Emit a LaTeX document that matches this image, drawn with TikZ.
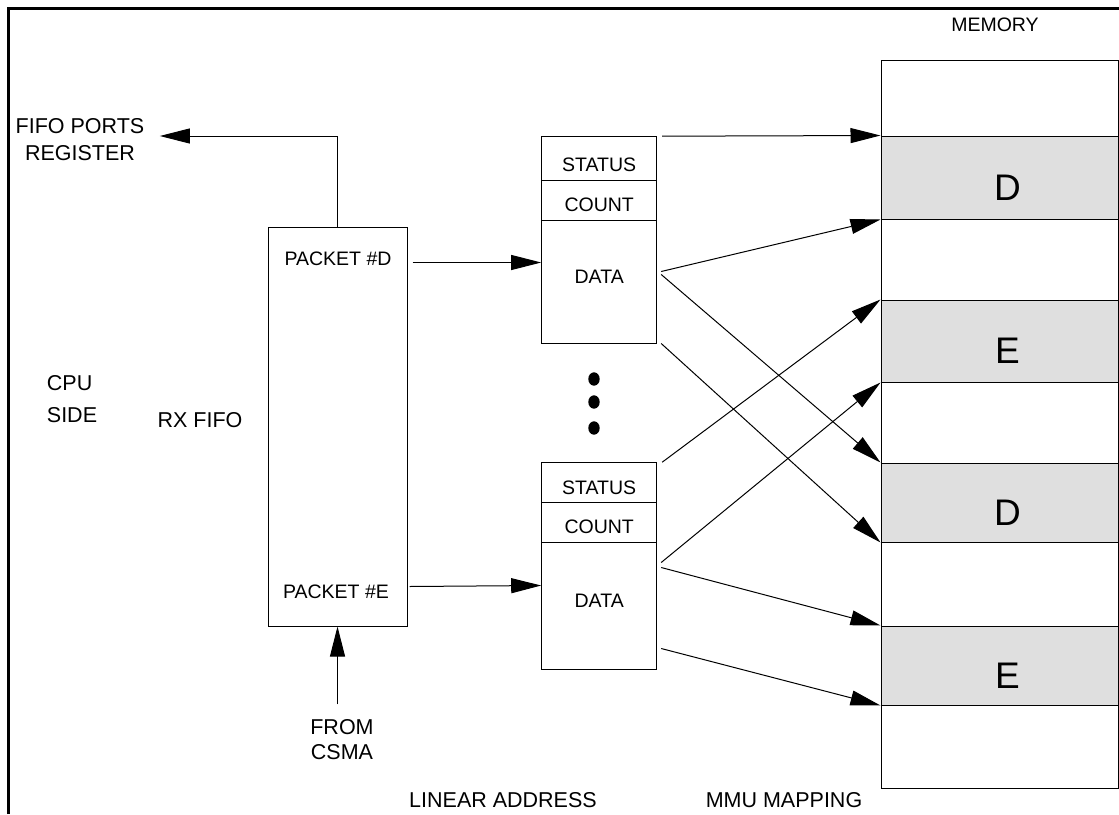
\documentclass[tikz,border=0pt]{standalone}
\usepackage{fontspec}
\setmainfont{Liberation Sans}
\usetikzlibrary{arrows.meta}
\tikzset{
  arr/.style={-{Triangle[length=30pt,width=15pt]}},
  lbl/.style={font=\fontsize{21.5}{27}\selectfont, align=center},
  small/.style={font=\fontsize{19.5}{24}\selectfont},
  big/.style={font=\fontsize{37}{40}\selectfont},
  field/.style={draw, rectangle, minimum width=115pt},
  mem/.style={draw, rectangle, minimum width=237pt},
  page/.style={mem, fill=gray!25}
}
\begin{document}
\begin{tikzpicture}[x=1pt, y=1pt, line width=1pt]
\tikzstyle{every node}+=[inner sep=0pt]
\useasboundingbox (0,0) rectangle (1119,-814);
\draw [line width=3pt] (8,-814) -- (8,-8) -- (1119,-8);
\node [small] (memory) at (995,-25) {MEMORY};
\node [lbl] (linear) at (503,-800) {LINEAR ADDRESS};
\node [lbl] (mmu) at (784,-800) {MMU MAPPING};
\node [lbl] (fports) at (80,-140) {FIFO PORTS\\REGISTER};
\node [lbl, align=left, font=\fontsize{21.5}{32}\selectfont] (cpu) at (72,-399) {CPU\\SIDE};
\node [lbl] (rxlabel) at (200,-420) {RX FIFO};
\node [lbl, font=\fontsize{21.5}{25}\selectfont] (csma) at (342,-740) {FROM\\CSMA};
\node [draw, minimum width=139pt, minimum height=399pt] (fifo) at (337.5,-426.5) {};
\node [small] (pktD) at (338,-259) {PACKET \#D};
\node [small] (pktE) at (336,-592) {PACKET \#E};
\node [mem, minimum height=76pt] (m1) at (999.5,-98) {};
\node [mem, minimum height=81pt] (m3) at (999.5,-259.5) {};
\node [mem, minimum height=81pt] (m5) at (999.5,-422.5) {};
\node [mem, minimum height=84pt] (m7) at (999.5,-584) {};
\node [mem, minimum height=83pt] (m9) at (999.5,-746.5) {};
\node [page, minimum height=83pt, label={[big, xshift=8pt, yshift=-10pt]center:D}] (m2) at (999.5,-177.5) {};
\node [page, minimum height=82pt, label={[big, xshift=8pt, yshift=-10pt]center:E}] (m4) at (999.5,-341) {};
\node [page, minimum height=79pt, label={[big, xshift=8pt, yshift=-10pt]center:D}] (m6) at (999.5,-502.5) {};
\node [page, minimum height=79pt, label={[big, xshift=8pt, yshift=-10pt]center:E}] (m8) at (999.5,-665.5) {};
\node [field, minimum height=43.3pt, label={[small, yshift=-6pt]center:STATUS}] (st1) at (599.2,-158.35) {};
\node [field, minimum height=40pt, label={[small, yshift=-5pt]center:COUNT}] (ct1) at (599.2,-200) {};
\node [field, minimum height=123pt, label={[small, yshift=5pt]center:DATA}] (data1) at (599.2,-281.5) {};
\node [field, minimum height=39.6pt, label={[small, yshift=-5pt]center:STATUS}] (st2) at (599.2,-482.5) {};
\node [field, minimum height=39.7pt, label={[small, yshift=-5pt]center:COUNT}] (ct2) at (599.2,-522.15) {};
\node [field, minimum height=127pt, label={[small, yshift=5pt]center:DATA}] (data2) at (599.2,-605.5) {};
\fill (594,-379) ellipse (5.7pt and 6.7pt);
\fill (594,-402) ellipse (5.7pt and 6.7pt);
\fill (594,-428) ellipse (5.7pt and 6.7pt);
\draw [arr] (fifo.north) |- ([shift={(15pt,4pt)}]fports.east);
\draw [arr] (fifo.south |- csma.north) ++(0,15) -- (fifo.south);
\draw [arr] ([shift={(5pt,-36pt)}]fifo.north east) -- ([yshift=-43pt]data1.north west);
\draw [arr] ([shift={(2pt,40pt)}]fifo.south east) -- ([yshift=-44pt]data2.north west);
\draw [arr] ([xshift=5pt]st1.north east) -- (m2.north west);
\draw [arr] ([shift={(4pt,10pt)}]data1.east) -- (m2.south west);
\draw [arr] ([shift={(4pt,7pt)}]data1.east) -- (m6.north west);
\draw [arr] ([xshift=4pt]data1.south east) -- (m6.south west);
\draw [arr] ([xshift=5pt]st2.north east) -- (m4.north west);
\draw [arr] ([shift={(4pt,-21pt)}]data2.north east) -- (m4.south west);
\draw [arr] ([shift={(4pt,-26pt)}]data2.north east) -- (m8.north west);
\draw [arr] ([shift={(4pt,21pt)}]data2.south east) -- (m8.south west);
\end{tikzpicture}
\end{document}
